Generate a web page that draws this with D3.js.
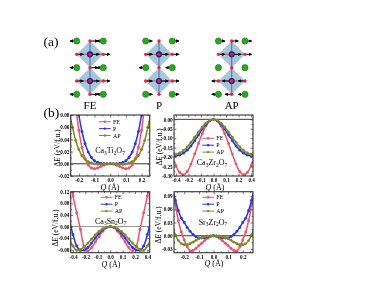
<!DOCTYPE html>
<html>
<head>
<meta charset="utf-8">
<script src="https://cdn.jsdelivr.net/npm/d3@7"></script>
<style>
  html, body { margin: 0; padding: 0; background: #fff; }
  svg { display: block; }
  text { font-family: "Liberation Serif", serif; fill: #000; }
</style>
</head>
<body>
<div id="chart"></div>
<script>
// Q grids of the energy curves
var qTi = [-0.26,-0.24,-0.22,-0.20,-0.18,-0.16,-0.14,-0.12,-0.10,-0.08,-0.06,-0.04,-0.02,0,0.02,0.04,0.06,0.08,0.10,0.12,0.14,0.16,0.18,0.20,0.22,0.24,0.26];
var qWide = [-0.44,-0.40,-0.36,-0.32,-0.28,-0.24,-0.20,-0.16,-0.12,-0.08,-0.04,0,0.04,0.08,0.12,0.16,0.20,0.24,0.28,0.32,0.36,0.40,0.44];
var qSr = [-0.28,-0.26,-0.24,-0.22,-0.20,-0.18,-0.16,-0.14,-0.12,-0.10,-0.08,-0.06,-0.04,-0.02,0,0.02,0.04,0.06,0.08,0.10,0.12,0.14,0.16,0.18,0.20,0.22,0.24,0.26,0.28];

// Ca3Ti2O7
var tiFE = [0.22,0.15,0.0962,0.055,0.0268,0.0085,-0.002,-0.0069,-0.008,-0.0068,-0.0046,-0.0023,-0.0006,0,-0.0006,-0.0023,-0.0046,-0.0068,-0.008,-0.0069,-0.002,0.0085,0.0268,0.055,0.0962,0.15,0.22];
var tiP = [0.2285,0.1659,0.1171,0.08,0.0525,0.0328,0.0192,0.0104,0.005,0.0021,0.0007,0.0001,0,0,0,0.0001,0.0007,0.0021,0.005,0.0104,0.0192,0.0328,0.0525,0.08,0.1171,0.1659,0.2285];
var tiAP = [0.082,0.0595,0.038,0.0235,0.0135,0.0075,0.0036,0.0012,-0.0002,-0.0008,-0.0009,-0.0006,-0.0002,0,-0.0002,-0.0006,-0.0009,-0.0008,-0.0002,0.0012,0.0036,0.0075,0.0135,0.0235,0.038,0.0595,0.082];

// Ca3Zr2O7
var zrFE = [-0.19,-0.245,-0.281,-0.293,-0.277,-0.237,-0.184,-0.128,-0.0766,-0.0355,-0.009,0,-0.009,-0.0355,-0.0766,-0.128,-0.184,-0.237,-0.277,-0.293,-0.281,-0.245,-0.19];
var zrP = [-0.195,-0.194,-0.189,-0.179,-0.163,-0.141,-0.113,-0.083,-0.052,-0.026,-0.007,0,-0.007,-0.026,-0.052,-0.083,-0.113,-0.141,-0.163,-0.179,-0.189,-0.194,-0.195];
var zrAP = [-0.188,-0.186,-0.178,-0.165,-0.146,-0.122,-0.095,-0.068,-0.042,-0.02,-0.005,0,-0.005,-0.02,-0.042,-0.068,-0.095,-0.122,-0.146,-0.165,-0.178,-0.186,-0.188];

// Ca3Sn2O7
var snFE = [0.17,0.105,0.047,-0.01,-0.068,-0.083,-0.073,-0.053,-0.034,-0.0165,-0.0045,0,-0.0045,-0.0165,-0.034,-0.053,-0.073,-0.083,-0.068,-0.01,0.047,0.105,0.17];
var snP = [0.025,-0.028,-0.067,-0.082,-0.081,-0.072,-0.057,-0.0393,-0.0236,-0.0109,-0.0028,0,-0.0028,-0.0109,-0.0236,-0.0393,-0.057,-0.072,-0.081,-0.082,-0.067,-0.028,0.025];
var snAP = [-0.04,-0.067,-0.082,-0.079,-0.07,-0.057,-0.043,-0.0285,-0.0168,-0.0077,-0.002,0,-0.002,-0.0077,-0.0168,-0.0285,-0.043,-0.057,-0.07,-0.079,-0.082,-0.067,-0.04];

// Sr3Zr2O7
var srFE = [0.11,0.07,0.034,0.0085,-0.0095,-0.025,-0.0345,-0.0335,-0.029,-0.0225,-0.017,-0.011,-0.0055,-0.0017,0,-0.0017,-0.0055,-0.011,-0.017,-0.0225,-0.029,-0.0335,-0.0345,-0.025,-0.0095,0.0085,0.034,0.07,0.11];
var srP = [0.11,0.08,0.057,0.04,0.03,0.019,0.01,0.003,-0.002,-0.0048,-0.0052,-0.0045,-0.0027,-0.0008,0,-0.0008,-0.0027,-0.0045,-0.0052,-0.0048,-0.002,0.003,0.01,0.019,0.03,0.04,0.057,0.08,0.11];
var srAP = [0.0195,0.0015,-0.011,-0.0178,-0.0205,-0.0205,-0.018,-0.0145,-0.0105,-0.0068,-0.004,-0.002,-0.001,-0.0003,0,-0.0003,-0.001,-0.002,-0.004,-0.0068,-0.0105,-0.0145,-0.018,-0.0205,-0.0205,-0.0178,-0.011,0.0015,0.0195];

// tick values and the labels printed at them
var xTicksNarrow = [-0.2,-0.1,0,0.1,0.2];
var xLabelsNarrow = ["-0.2","-0.1","0.0","0.1","0.2"];
var xTicksWide = [-0.4,-0.2667,-0.1333,0,0.1333,0.2667,0.4];
var xLabelsWide = ["-0.4","-0.2","-0.1","0.0","0.1","0.2","0.4"];
var yTicksTi = [-0.02,0,0.02,0.04,0.06,0.08];
var yLabelsTi = ["-0.02","0.00","0.02","0.04","0.06","0.08"];
var yTicksZr = [-0.30,-0.25,-0.20,-0.15,-0.10,-0.05,0];
var yLabelsZr = ["-0.30","-0.25","-0.20","-0.15","-0.10","-0.05","0.00"];
var yTicksSn = [-0.08,-0.04,0,0.04,0.08,0.12];
var yLabelsSn = ["-0.08","-0.04","0.00","0.04","0.08","0.12"];
var yTicksSr = [-0.03,0,0.03,0.06,0.09];
var yLabelsSr = ["-0.03","0.00","0.03","0.06","0.09"];

// atomic displacements per row, columns are left, centre, right (units of half a cell)
var structureNames = ["FE","P","AP"];
var feMoves = [[-0.5,0.6,-0.5],[0.5,0.7,0.5],[-0.5,0.6,-0.5],[0.5,0.7,0.5],[-0.5,0.6,-0.5]];
var pMoves = [[0.5,0,0.5],[0.5,0.7,0.5],[-0.5,0,-0.5],[0.5,0.7,0.5],[0.5,0,0.5]];
var apMoves = [[0.5,0.5,0.5],[0.5,0.7,0.5],[0,0,0],[-0.5,-0.7,-0.5],[-0.5,-0.5,-0.5]];

var colors = { FE: "#f4506a", P: "#2a35e8", AP: "#7d8c1c" };
var seriesNames = ["FE","P","AP"];

var svg = d3.select("#chart").append("svg").attr("width", 374).attr("height", 286);
var defs = svg.append("defs");

// the reference is a downscaled scan, so everything is slightly soft
defs.append("filter").attr("id", "soft")
    .attr("x", 0).attr("y", 0).attr("width", 374).attr("height", 286)
    .attr("filterUnits", "userSpaceOnUse")
    .append("feGaussianBlur").attr("stdDeviation", 0.3);

defs.append("marker")
    .attr("id", "head")
    .attr("viewBox", "0 0 6 6").attr("refX", 5).attr("refY", 3)
    .attr("markerWidth", 3.6).attr("markerHeight", 3.6)
    .attr("markerUnits", "userSpaceOnUse")
    .attr("orient", "auto")
    .append("path").attr("d", "M0,0L6,3L0,6Z").attr("fill", "#000");

var root = svg.append("g").attr("filter", "url(#soft)");

root.append("text").attr("x", 43.5).attr("y", 45.5).style("font-size", "13.5px").text("(a)");
root.append("text").attr("x", 43.5).attr("y", 117).style("font-size", "13.5px").text("(b)");

// ---- panel (a)
function drawStructure(cx, moves, name) {
    var col = d3.scaleLinear().domain([-1, 1]).range([cx - 13.3, cx + 13.3]);
    var row = d3.scaleLinear().domain([0, 4]).range([41, 94.3]);
    var g = root.append("g");

    [1, 3].forEach(function (r) {
        g.append("path")
            .attr("d", "M" + col(-1) + "," + row(r) + "L" + col(0) + "," + row(r - 1) + "L" + col(1) + "," + row(r) + "L" + col(0) + "," + row(r + 1) + "Z")
            .attr("fill", "#a6c6dc");
        g.append("line")
            .attr("x1", col(-1)).attr("x2", col(1)).attr("y1", row(r)).attr("y2", row(r))
            .attr("stroke", "#c9506e").attr("stroke-width", 1);
    });
    g.append("line")
        .attr("x1", col(0)).attr("x2", col(0)).attr("y1", row(0)).attr("y2", row(4))
        .attr("stroke", "#5a66b4").attr("stroke-width", 1);

    moves.forEach(function (m, r) {
        [-1, 0, 1].forEach(function (c, i) {
            var isCageRow = r % 2 === 1;
            if (m[i] !== 0) {
                g.append("line")
                    .attr("x1", col(c)).attr("x2", col(c + m[i])).attr("y1", row(r)).attr("y2", row(r))
                    .attr("stroke", "#000").attr("stroke-width", 1)
                    .attr("marker-end", "url(#head)");
            }
            if (isCageRow && c === 0) {
                g.append("circle").attr("cx", col(c)).attr("cy", row(r)).attr("r", 3.1).attr("fill", "#1b2180");
            }
            if (!isCageRow && c !== 0) {
                g.append("circle").attr("cx", col(c)).attr("cy", row(r)).attr("r", 3.1)
                    .attr("fill", "#2aa822").attr("stroke", "#167312").attr("stroke-width", 0.6);
            } else {
                g.append("circle").attr("cx", col(c)).attr("cy", row(r)).attr("r", 1.7).attr("fill", "#ee2040");
            }
        });
    });

    root.append("text").attr("x", cx).attr("y", 108.5).attr("text-anchor", "middle")
        .style("font-size", "11px").text(name);
}

drawStructure(90, feMoves, structureNames[0]);
drawStructure(159, pMoves, structureNames[1]);
drawStructure(231.7, apMoves, structureNames[2]);

// ---- panel (b)
var clipCount = 0;

function drawPanel(o) {
    var x = d3.scaleLinear().domain(o.xDomain).range([o.left, o.left + 79]);
    var y = d3.scaleLinear().domain(o.yDomain).range([o.top + 61, o.top]);
    var g = root.append("g");

    clipCount += 1;
    var clipId = "clip" + clipCount;
    defs.append("clipPath").attr("id", clipId).append("rect")
        .attr("x", o.left).attr("y", o.top).attr("width", 79).attr("height", 61);

    var plot = g.append("g").attr("clip-path", "url(#" + clipId + ")");
    plot.append("line")
        .attr("x1", o.left).attr("x2", o.left + 79).attr("y1", y(0)).attr("y2", y(0))
        .attr("stroke", o.zeroColor).attr("stroke-width", 0.9);

    var line = d3.line()
        .x(function (d) { return x(d[0]); })
        .y(function (d) { return y(d[1]); })
        .curve(d3.curveCatmullRom);

    o.series.forEach(function (values, i) {
        var color = colors[seriesNames[i]];
        var pts = d3.zip(o.q, values);
        plot.append("path").datum(pts).attr("d", line)
            .attr("fill", "none").attr("stroke", color).attr("stroke-width", 1.5);
        plot.selectAll(null).data(pts).enter().append("circle")
            .attr("cx", function (d) { return x(d[0]); })
            .attr("cy", function (d) { return y(d[1]); })
            .attr("r", 1.45).attr("fill", color);
    });

    // minor ticks sit half way between the major ones
    function minors(ticks) {
        var out = [];
        var step = ticks[1] - ticks[0];
        ticks.forEach(function (t) { out.push(t - step / 2); });
        out.push(ticks[ticks.length - 1] + step / 2);
        return out;
    }
    var xDom = x.domain(), yDom = y.domain();
    var xMinor = minors(o.xTicks).filter(function (t) { return t > xDom[0] && t < xDom[1]; });
    var yMinor = minors(o.yTicks).filter(function (t) { return t > yDom[0] && t < yDom[1]; });

    function tickAxis(gen, vals, size, tx, ty, labels) {
        var a = g.append("g").attr("transform", "translate(" + tx + "," + ty + ")")
            .call(gen.tickValues(vals).tickSize(size)
                .tickFormat(labels ? function (d, i) { return labels[i]; } : ""));
        a.select(".domain").remove();
        a.selectAll("line").attr("stroke", "#333").attr("stroke-width", 0.7);
        a.selectAll("text").style("font-size", "5.2px").style("font-weight", "bold");
        return a;
    }

    var bottomY = o.top + 61, rightX = o.left + 79;
    var xb = tickAxis(d3.axisBottom(x), o.xTicks, -2.4, 0, bottomY, o.xLabels);
    xb.selectAll("text").attr("y", 2.6).attr("dy", "0.71em");
    tickAxis(d3.axisBottom(x), xMinor, -1.3, 0, bottomY);
    tickAxis(d3.axisTop(x), o.xTicks, -2.4, 0, o.top);
    tickAxis(d3.axisTop(x), xMinor, -1.3, 0, o.top);
    var yl = tickAxis(d3.axisLeft(y), o.yTicks, -2.4, o.left, 0, o.yLabels);
    yl.selectAll("text").attr("x", -1.3);
    tickAxis(d3.axisLeft(y), yMinor, -1.3, o.left, 0);
    tickAxis(d3.axisRight(y), o.yTicks, -2.4, rightX, 0);
    tickAxis(d3.axisRight(y), yMinor, -1.3, rightX, 0);

    g.append("rect")
        .attr("x", o.left).attr("y", o.top).attr("width", 79).attr("height", 61)
        .attr("fill", "none").attr("stroke", "#333").attr("stroke-width", 1.1);

    // legend
    seriesNames.forEach(function (name, i) {
        var ly = o.legendY + i * 6.9;
        g.append("line")
            .attr("x1", o.legendX).attr("x2", o.legendX + 11.7).attr("y1", ly).attr("y2", ly)
            .attr("stroke", colors[name]).attr("stroke-width", 1);
        g.append("circle").attr("cx", o.legendX + 5.8).attr("cy", ly).attr("r", 1.2).attr("fill", colors[name]);
        g.append("text").attr("x", o.legendX + 14).attr("y", ly + 2)
            .style("font-size", "6px").text(name);
    });

    // formula, the digits go down a little
    var f = g.append("text").attr("x", o.nameX).attr("y", o.nameY).attr("text-anchor", "middle")
        .style("font-size", "8px");
    o.formula.forEach(function (part, i) {
        var t = f.append("tspan").text(part);
        if (i % 2 === 1) t.style("font-size", "5.5px").attr("dy", 1.5);
        else if (i > 0) t.attr("dy", -1.5);
    });

    // axis titles
    var qt = g.append("text").attr("x", o.xTitleX).attr("y", o.xTitleY).attr("text-anchor", "middle")
        .style("font-size", "8px");
    qt.append("tspan").style("font-style", "italic").text("Q");
    qt.append("tspan").text(" (Å)");

    var yt = g.append("text")
        .attr("transform", "translate(" + o.yTitleX + "," + o.yTitleY + ") rotate(-90)")
        .attr("text-anchor", "middle").style("font-size", "7.5px");
    yt.append("tspan").text("Δ");
    yt.append("tspan").style("font-style", "italic").text("E");
    yt.append("tspan").text(" (eV/f.u.)");
}

drawPanel({
    left: 70.7, top: 115, xDomain: [-0.252, 0.252], yDomain: [-0.02, 0.08],
    q: qTi, series: [tiFE, tiP, tiAP],
    xTicks: xTicksNarrow, xLabels: xLabelsNarrow, yTicks: yTicksTi, yLabels: yLabelsTi,
    zeroColor: "#222", legendX: 99, legendY: 121.7,
    formula: ["Ca","3","Ti","2","O","7"], nameX: 110, nameY: 153,
    xTitleX: 110, xTitleY: 190, yTitleX: 59.5, yTitleY: 148
});
drawPanel({
    left: 174, top: 115, xDomain: [-0.42, 0.42], yDomain: [-0.30, 0.023],
    q: qWide, series: [zrFE, zrP, zrAP],
    xTicks: xTicksWide, xLabels: xLabelsWide, yTicks: yTicksZr, yLabels: yLabelsZr,
    zeroColor: "#222", legendX: 202.3, legendY: 138.3,
    formula: ["Ca","3","Zr","2","O","7"], nameX: 212, nameY: 165,
    xTitleX: 215, xTitleY: 190, yTitleX: 161.5, yTitleY: 147
});
drawPanel({
    left: 70.7, top: 191.7, xDomain: [-0.425, 0.425], yDomain: [-0.09, 0.12],
    q: qWide, series: [snFE, snP, snAP],
    xTicks: xTicksWide, xLabels: xLabelsWide, yTicks: yTicksSn, yLabels: yLabelsSn,
    zeroColor: "#888", legendX: 100.7, legendY: 197.3,
    formula: ["Ca","3","Sn","2","O","7"], nameX: 110.7, nameY: 223.5,
    xTitleX: 111, xTitleY: 266.5, yTitleX: 58, yTitleY: 228
});
drawPanel({
    left: 174, top: 191.7, xDomain: [-0.27, 0.27], yDomain: [-0.0385, 0.1],
    q: qSr, series: [srFE, srP, srAP],
    xTicks: xTicksNarrow, xLabels: xLabelsNarrow, yTicks: yTicksSr, yLabels: yLabelsSr,
    zeroColor: "#222", legendX: 202.3, legendY: 197.3,
    formula: ["Sr","3","Zr","2","O","7"], nameX: 213, nameY: 224.5,
    xTitleX: 214, xTitleY: 266, yTitleX: 161, yTitleY: 225
});
</script>
</body>
</html>
